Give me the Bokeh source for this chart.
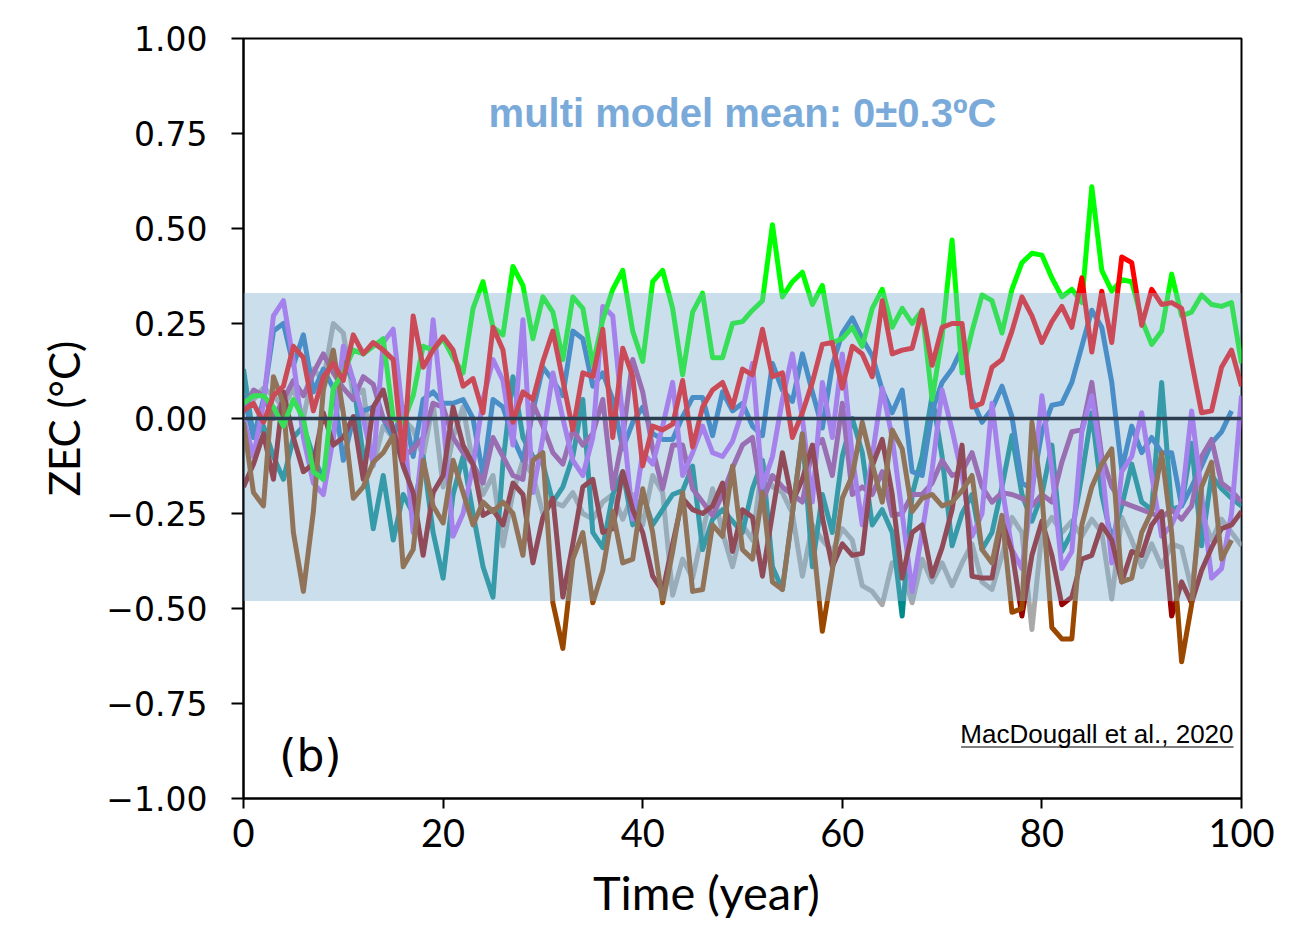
from bokeh.plotting import figure
from bokeh.models import Range1d, FixedTicker, BoxAnnotation, Span, Label
from bokeh.embed import file_html
from bokeh.resources import INLINE

years = list(range(101))

green = [0.04, 0.06, 0.06, 0.03, -0.02, 0.05, 0.0, -0.14, -0.16, 0.08,
         0.12, 0.18, 0.17, 0.19, 0.21, 0.0, -0.01, 0.06, 0.19, 0.18,
         0.21, 0.16, 0.12, 0.29, 0.36, 0.24, 0.22, 0.40, 0.35, 0.21,
         0.32, 0.28, 0.155, 0.32, 0.29, 0.14, 0.26, 0.34, 0.39, 0.23,
         0.15, 0.36, 0.39, 0.29, 0.115, 0.28, 0.33, 0.16, 0.16, 0.25,
         0.255, 0.285, 0.31, 0.51, 0.32, 0.36, 0.385, 0.30, 0.35, 0.20,
         0.21, 0.24, 0.19, 0.29, 0.34, 0.24, 0.29, 0.25, 0.285, 0.05,
         0.215, 0.47, 0.12, 0.23, 0.325, 0.31, 0.225, 0.34, 0.41, 0.435,
         0.43, 0.37, 0.32, 0.34, 0.305, 0.61, 0.39, 0.335, 0.365, 0.36,
         0.26, 0.195, 0.23, 0.38, 0.27, 0.28, 0.325, 0.30, 0.295, 0.305,
         0.145]

red = [0.02, 0.04, -0.01, 0.06, 0.085, 0.19, 0.16, 0.02, 0.11, 0.145,
       0.10, 0.22, 0.17, 0.20, 0.18, 0.155, -0.11, 0.27, 0.135, 0.18,
       0.215, 0.18, 0.085, 0.105, 0.015, 0.24, 0.18, -0.01, 0.07, 0.05,
       0.15, 0.23, 0.10, -0.03, 0.12, 0.11, 0.235, -0.05, 0.185, 0.11,
       -0.125, -0.02, -0.03, -0.015, 0.10, -0.075, 0.03, 0.075, 0.095, 0.03,
       0.13, 0.115, 0.235, 0.11, 0.12, -0.05, 0.015, 0.095, 0.195, 0.20,
       0.08, 0.19, 0.17, 0.11, 0.31, 0.17, 0.18, 0.185, 0.285, 0.14,
       0.24, 0.25, 0.25, 0.03, 0.04, 0.135, 0.155, 0.23, 0.32, 0.27,
       0.20, 0.255, 0.295, 0.24, 0.37, 0.175, 0.335, 0.20, 0.425, 0.41,
       0.245, 0.34, 0.30, 0.305, 0.29, 0.15, 0.015, 0.02, 0.135, 0.18,
       0.085]

blue = [0.06, -0.05, 0.05, 0.23, 0.25, 0.14, 0.22, 0.07, 0.13, 0.08,
        -0.11, 0.0, 0.02, 0.03, 0.0, -0.05, 0.03, -0.1, 0.05, 0.07,
        0.04, 0.04, 0.05, 0.0, -0.15, 0.05, 0.03, -0.05, -0.11, 0.02,
        0.135, 0.1, 0.06, 0.23, 0.21, 0.085, 0.12, 0.05, -0.08, -0.01,
        0.03, -0.04, -0.055, -0.055, 0.005, 0.055, 0.055, -0.045, 0.07, 0.02,
        0.04, -0.02, -0.045, 0.145, 0.075, 0.045, 0.17, 0.07, -0.025, 0.14,
        0.225, 0.265, 0.21, 0.165, 0.075, 0.015, 0.075, -0.14, -0.15, 0.02,
        0.095, 0.13, 0.185, 0.05, -0.01, 0.025, 0.085, 0.005, -0.17, -0.185,
        -0.035, 0.035, 0.04, 0.095, 0.19, 0.285, 0.24, 0.095, -0.135, -0.02,
        -0.09, -0.05, -0.09, -0.09, -0.23, -0.18, -0.125, -0.065, -0.035, 0.02]

lavender = [0.0, -0.1, 0.04, 0.27, 0.31, 0.15, -0.05, -0.17, -0.2, -0.05,
            0.19, 0.1, 0.0, -0.12, 0.2, 0.235, 0.0, -0.3, -0.05, 0.26,
            0.0, -0.31, -0.25, -0.125, 0.05, 0.155, 0.10, -0.07, 0.26, -0.195,
            -0.05, 0.12, 0.0, -0.11, -0.15, -0.05, 0.295, 0.27, 0.0, -0.265,
            -0.09, -0.12, -0.02, 0.095, -0.15, -0.09, -0.02, -0.09, -0.1, -0.06,
            0.02, 0.145, -0.18, -0.1, 0.05, 0.17, 0.0, -0.22, 0.095, -0.05,
            0.17, -0.1, -0.28, -0.1, 0.08, -0.05, -0.25, -0.455, -0.3, -0.135,
            0.075, -0.03, -0.15, -0.31, -0.25, 0.04, -0.18, -0.345, -0.395, -0.2,
            0.06, -0.135, -0.395, -0.35, -0.035, 0.06, -0.12, -0.38, -0.14, -0.1,
            0.015, -0.15, -0.31, -0.28, -0.22, 0.02, -0.2, -0.42, -0.395, -0.25,
            0.06]

teal = [0.13, -0.05, -0.02, -0.1, -0.16, -0.05, -0.02, -0.1, -0.16, -0.05,
        0.15, 0.1, -0.1, -0.29, -0.15, -0.32, -0.2, -0.25, -0.1, -0.3,
        -0.42, -0.2, -0.1, -0.25, -0.39, -0.47, -0.115, 0.11, -0.05, -0.1,
        -0.12, -0.22, -0.18, -0.1, 0.05, -0.3, -0.34, -0.2, -0.14, -0.28,
        -0.2, -0.28, -0.24, -0.2, -0.19, -0.125, -0.345, -0.265, -0.24, -0.27,
        -0.3, -0.185, -0.11, -0.39, -0.45, -0.25, -0.04, -0.39, -0.2, -0.3,
        -0.1, 0.0, -0.09, -0.28, -0.24, -0.3, -0.52, -0.2, -0.1, 0.06,
        -0.1, -0.335, -0.25, -0.2, -0.345, -0.3, -0.18, -0.045, -0.2, -0.27,
        -0.2, -0.07, -0.35, -0.3, -0.15, 0.015, -0.2, -0.32, -0.23, -0.12,
        -0.22, -0.24, 0.095, -0.24, -0.23, -0.065, -0.335, -0.15, -0.185, -0.21,
        -0.23]

grey = [0.07, 0.05, 0.08, 0.06, 0.03, 0.08, 0.0, 0.13, 0.1, 0.25,
        0.225, 0.06, 0.075, -0.125, -0.02, -0.05, 0.0, -0.03, -0.1, 0.04,
        -0.18, -0.05, 0.03, -0.12, -0.2, -0.15, -0.335, -0.195, -0.11, -0.15,
        -0.25, -0.22, -0.23, -0.195, -0.25, -0.265, -0.22, -0.2, -0.265, -0.2,
        -0.28, -0.15, -0.195, -0.465, -0.37, -0.42, -0.3, -0.185, -0.3, -0.39,
        -0.28, -0.32, -0.115, -0.18, -0.195, -0.25, -0.415, -0.28, -0.32, -0.35,
        -0.29, -0.32, -0.44, -0.455, -0.49, -0.38, -0.4, -0.485, -0.37, -0.43,
        -0.38, -0.44, -0.38, -0.33, -0.43, -0.45, -0.36, -0.26, -0.3, -0.555,
        -0.3, -0.26, -0.3, -0.27, -0.31, -0.265, -0.3, -0.475, -0.26, -0.32,
        -0.39, -0.33, -0.39, -0.33, -0.34, -0.45, -0.25, -0.32, -0.265, -0.3,
        -0.335]

purple = [0.02, 0.075, 0.06, 0.0, 0.05, 0.1, 0.06, 0.12, 0.17, 0.12,
          0.08, 0.05, 0.11, 0.09, 0.0, -0.03, -0.1, -0.08, -0.05, 0.04,
          0.03, -0.05, -0.09, -0.12, -0.17, -0.05, -0.1, -0.15, -0.16, 0.04,
          -0.02, -0.09, -0.12, -0.03, -0.07, -0.04, 0.05, -0.185, -0.05, 0.155,
          0.07, -0.08, -0.185, -0.07, -0.07, -0.185, -0.22, -0.255, -0.2, -0.13,
          -0.07, -0.05, -0.22, -0.15, -0.18, -0.2, -0.22, -0.08, -0.055, -0.15,
          0.04, -0.2, -0.18, -0.2, -0.14, -0.255, -0.25, -0.2, -0.2, -0.17,
          -0.11, -0.15, -0.14, -0.09, -0.18, -0.22, -0.195, -0.2, -0.21, -0.23,
          -0.2, -0.22, -0.115, -0.035, -0.03, 0.095, -0.1, -0.18, -0.22, -0.23,
          -0.24, -0.25, -0.26, -0.24, -0.265, -0.23, -0.1, -0.055, -0.17, -0.19,
          -0.22]

maroon = [-0.18, -0.12, -0.04, -0.16, 0.07, -0.05, -0.14, -0.12, 0.015, -0.07,
          -0.05, 0.005, -0.16, 0.03, 0.075, -0.03, -0.125, -0.195, -0.36, -0.195,
          -0.15, 0.03, -0.07, -0.12, -0.255, -0.24, -0.28, -0.17, -0.2, -0.38,
          -0.26, -0.21, -0.47, -0.33, -0.18, -0.16, -0.3, -0.29, -0.14, -0.24,
          -0.3, -0.415, -0.455, -0.33, -0.21, -0.24, -0.25, -0.23, -0.17, -0.35,
          -0.24, -0.26, -0.415, -0.25, -0.09, -0.22, -0.16, -0.07, -0.26, -0.39,
          -0.33, -0.36, -0.355, -0.125, -0.055, -0.2, -0.42, -0.3, -0.28, -0.415,
          -0.34, -0.24, -0.07, -0.415, -0.42, -0.42, -0.27, -0.35, -0.52, -0.36,
          -0.27, -0.36, -0.49, -0.47, -0.37, -0.36, -0.28, -0.32, -0.43, -0.35,
          -0.36, -0.28, -0.245, -0.52, -0.43, -0.485, -0.4, -0.34, -0.29, -0.28,
          -0.245]

brown = [-0.01, -0.195, -0.23, 0.11, 0.04, -0.3, -0.455, -0.245, 0.075, 0.18,
         0.015, -0.21, -0.18, -0.115, -0.09, -0.045, -0.39, -0.345, -0.11, -0.23,
         -0.275, -0.11, -0.195, -0.28, -0.22, -0.245, -0.22, -0.25, -0.36, -0.11,
         -0.09, -0.485, -0.605, -0.37, -0.3, -0.485, -0.4, -0.245, -0.38, -0.37,
         -0.185, -0.3, -0.485, -0.35, -0.195, -0.455, -0.45, -0.28, -0.31, -0.125,
         -0.345, -0.37, -0.195, -0.43, -0.45, -0.25, -0.04, -0.3, -0.56, -0.4,
         -0.21, -0.15, -0.01, -0.12, -0.22, -0.03, -0.08, -0.245, -0.21, -0.2,
         -0.23, -0.22, -0.19, -0.15, -0.345, -0.38, -0.255, -0.51, -0.5, -0.01,
         -0.2, -0.55, -0.58, -0.58, -0.28, -0.18, -0.12, -0.08, -0.43, -0.42,
         -0.3, -0.245, -0.09, -0.3, -0.64, -0.49, -0.18, -0.115, -0.37, -0.32]

series = [
    (grey, "#a9a9a9"),
    (teal, "#008b8b"),
    (blue, "#2275c0"),
    (purple, "#aa3e9c"),
    (lavender, "#be5fff"),
    (maroon, "#9b0000"),
    (brown, "#9a4800"),
    (green, "#00ff00"),
    (red, "#ff0000"),
]

band_low, band_high = -0.48, 0.33
y_ticks = [-1.0, -0.75, -0.5, -0.25, 0.0, 0.25, 0.5, 0.75, 1.0]
y_labels = ["\u22121.00", "\u22120.75", "\u22120.50", "\u22120.25", "0.00",
            "0.25", "0.50", "0.75", "1.00"]
x_ticks = [0, 20, 40, 60, 80, 100]

p = figure(width=1274, height=922, x_range=Range1d(0, 100), y_range=Range1d(-1, 1),
           output_backend="svg", toolbar_location=None,
           min_border_left=243, min_border_right=33, min_border_top=38,
           min_border_bottom=122)
p.background_fill_color = "white"
p.border_fill_color = "white"
p.xgrid.visible = False
p.ygrid.visible = False
p.outline_line_color = "black"
p.outline_line_width = 2

for data, col in series:
    p.line(years[:len(data)], data, line_color=col, line_width=5,
           line_join="round")

p.add_layout(BoxAnnotation(bottom=band_low, top=band_high, fill_color="#83b0d2",
                           fill_alpha=0.42, line_color=None))
p.add_layout(Span(location=0, dimension="width", line_color="#2c3e50", line_width=3.5))

for ax in (p.xaxis[0], p.yaxis[0]):
    ax.axis_line_width = 2
    ax.axis_line_color = "black"
    ax.major_tick_line_width = 2
    ax.major_tick_in = 0
    ax.minor_tick_in = 0
    ax.minor_tick_out = 0

p.yaxis.ticker = FixedTicker(ticks=y_ticks)
p.yaxis.major_label_overrides = {v: l for v, l in zip(y_ticks, y_labels)}
p.yaxis.major_tick_out = 12
p.yaxis.major_label_standoff = 24
p.yaxis.major_label_text_font = "DejaVu Sans"
p.yaxis.major_label_text_font_size = "33px"
p.yaxis.major_label_text_color = "black"
p.yaxis.axis_label = "ZEC (\u00b0C)"
p.yaxis.axis_label_text_font = "Lato"
p.yaxis.axis_label_text_font_size = "42px"
p.yaxis.axis_label_text_font_style = "normal"
p.yaxis.axis_label_text_color = "black"
p.yaxis.axis_label_standoff = 14

p.xaxis.ticker = FixedTicker(ticks=x_ticks)
p.xaxis.major_tick_out = 10
p.xaxis.major_label_standoff = 10
p.xaxis.major_label_text_font = "Lato"
p.xaxis.major_label_text_font_size = "38px"
p.xaxis.major_label_text_color = "black"
p.xaxis.axis_label = "Time (year)" + "\u00a0" * 6
p.xaxis.axis_label_text_font = "Lato"
p.xaxis.axis_label_text_font_size = "47px"
p.xaxis.axis_label_text_font_style = "normal"
p.xaxis.axis_label_text_color = "black"
p.xaxis.axis_label_standoff = 14

p.add_layout(Label(x=50, y=0.803, text="multi model mean: 0\u00b10.3\u00baC",
                   text_align="center", text_baseline="middle",
                   text_font="Liberation Sans", text_font_style="bold",
                   text_font_size="40px", text_color="#7aaad9"))
p.add_layout(Label(x=6.7, y=-0.887, text="(b)", text_align="center",
                   text_baseline="middle", text_font="DejaVu Sans",
                   text_font_size="44px", text_color="black"))
p.add_layout(Label(x=99.2, y=-0.83, text="MacDougall et al., 2020", text_align="right",
                   text_baseline="middle", text_font="Liberation Sans",
                   text_font_size="26px", text_color="black"))
p.add_layout(BoxAnnotation(left=71.9, right=99.2, bottom=-0.866, top=-0.863,
                           fill_color="black", fill_alpha=1.0, line_color=None))

open("out.html", "w").write(file_html(p, INLINE))
